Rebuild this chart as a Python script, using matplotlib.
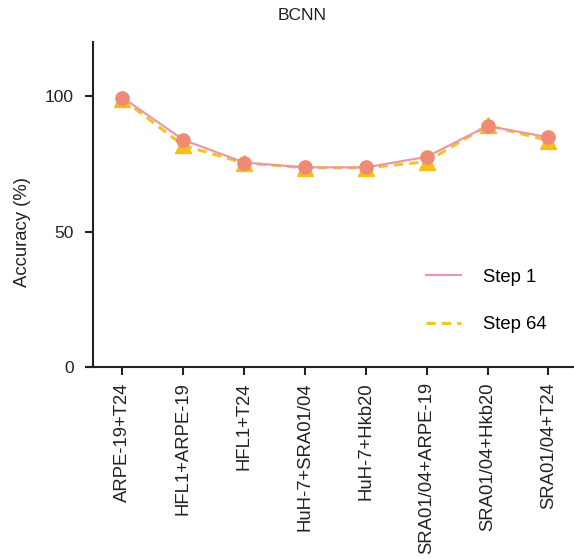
import matplotlib
matplotlib.use("Agg")
import matplotlib.pyplot as plt
from matplotlib.lines import Line2D

categories = ["ARPE-19+T24", "HFL1+ARPE-19", "HFL1+T24", "HuH-7+SRA01/04",
              "HuH-7+Hkb20", "SRA01/04+ARPE-19", "SRA01/04+Hkb20", "SRA01/04+T24"]
step1 = [99.5, 83.9, 75.5, 73.7, 73.7, 77.6, 89.0, 84.8]
step64 = [99.0, 81.8, 75.3, 73.6, 73.5, 75.8, 89.2, 83.6]
yticks = [0, 50, 100]

plt.rcParams['font.family'] = ['Liberation Sans', 'DejaVu Sans']

fig = plt.figure(figsize=(5.74, 5.59), dpi=100)
ax = fig.add_axes([87/574, 1-367/559, 1-87/574, (367-42)/559])

x = list(range(len(categories)))
ax.plot(x, step64, linestyle=(0, (3, 2)), color='#F3C424', linewidth=2.2,
        marker='^', markersize=11, markerfacecolor='#F6BE1C', markeredgecolor='#F6BE1C', zorder=2)
ax.plot(x, step1, linestyle='-', color='#E99AA6', linewidth=1.6,
        marker='o', markersize=9.5, markerfacecolor='#EF8A74', markeredgecolor='#EF8A74', zorder=3)

ax.set_ylim(0, 120)
ax.set_xlim(-0.58, 7.42)
ax.spines['left'].set_position(('data', -0.48))
ax.spines['top'].set_visible(False)
ax.spines['right'].set_visible(False)
for s in ['left', 'bottom']:
    ax.spines[s].set_linewidth(1.5)
    ax.spines[s].set_color('#222222')

ax.set_yticks(yticks)
ax.set_xticks(x)
ax.set_xticklabels(categories, rotation=90, fontsize=13.3)
ax.tick_params(axis='y', labelsize=12.5, length=6, width=1.5, colors='#222222', pad=8)
ax.tick_params(axis='x', length=6, width=1.5, colors='#222222', pad=5)
ax.set_ylabel('Accuracy (%)', fontsize=13.3, color='#222222')
ax.yaxis.set_label_coords((31 - 87) / 487, (367 - 232) / 325)

fig.text(302/574, 1-15/559, 'BCNN', ha='center', va='center', fontsize=12.5, color='#222222')

handles = [Line2D([0], [0], color='#E99AA6', linewidth=1.6),
           Line2D([0], [0], color='#F3C424', linewidth=2.2, linestyle=(0, (3, 2)))]
ax.legend(handles, ['Step 1', 'Step 64'], loc='center left',
          bbox_to_anchor=((426-87)/487, (367-301)/325),
          frameon=False, fontsize=13.3, handlelength=1.9, handletextpad=1.2,
          labelspacing=1.65, borderpad=0, borderaxespad=0)

fig.savefig('out.png', dpi=100)
